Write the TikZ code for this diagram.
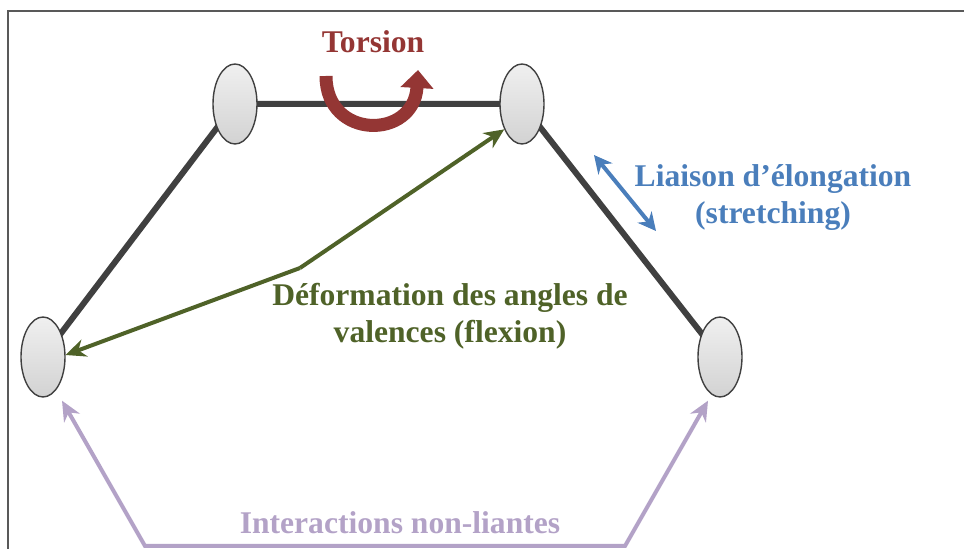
\documentclass[tikz,border=0pt]{standalone}
\usepackage{fontspec}
\setmainfont{Liberation Serif}
\usetikzlibrary{shapes.geometric,arrows.meta,calc}
\definecolor{torsred}{RGB}{148,54,52}
\definecolor{flexgreen}{RGB}{79,98,40}
\definecolor{strblue}{RGB}{74,126,187}
\definecolor{nblilac}{RGB}{179,162,199}
\definecolor{bondgray}{RGB}{64,64,64}
\tikzset{
  atom/.style={ellipse,draw=bondgray,line width=0.7pt,top color=gray!12,bottom color=gray!35,
    minimum width=22pt,minimum height=40pt,inner sep=0pt},
  bond/.style={bondgray,line width=3pt},
  lbl/.style={font=\fontsize{15.8}{18.5}\selectfont\bfseries,align=center,inner sep=0pt}
}
\begin{document}
\begin{tikzpicture}[x=0.5pt,y=-0.5pt]
\useasboundingbox (0,0) rectangle (964,549);
\draw[gray!70!black,line width=1pt] (964,11) -- (8,11) -- (8,549);
\draw[bond] (43,357) -- (235,104) -- (522,104) -- (720,357);
\node[atom] (a1) at (43,357) {};
\node[atom] (a2) at (235,104) {};
\node[atom] (a3) at (522,104) {};
\node[atom] (a4) at (720,357) {};
\draw[torsred,line width=6.5pt,-{Triangle[width=16pt 0 0,length=9pt 0 0]}] (326,76) .. controls (326,140) and (414,140) .. (418,70);
\node[lbl,torsred] (tors) at (373,42) {Torsion};
\coordinate (kink) at (300,268);
\draw[flexgreen,line width=2pt,-{Stealth[length=10pt,width=9pt]}] (kink) -- (a3.235);
\draw[flexgreen,line width=2pt,-{Stealth[length=10pt,width=9pt]}] (kink) -- (a1.5);
\node[lbl,flexgreen] (flex) at (450,316) {Déformation des angles de\\valences (flexion)};
\coordinate (s1) at (594,155);
\coordinate (s2) at (656,231);
\draw[strblue,line width=2pt,{Stealth[length=9pt,width=9pt]}-{Stealth[length=9pt,width=9pt]}] (s1) -- (s2);
\node[lbl,strblue] (stretch) at (773,198) {Liaison d’élongation\\(stretching)};
\coordinate (b1) at (145,546);
\coordinate (b2) at (625,546);
\draw[nblilac,line width=2pt,{Stealth[length=10pt,width=9pt]}-{Stealth[length=10pt,width=9pt]}] ($(a1.south)+(19,3)$) -- (b1) -- (b2) -- ($(a4.south)+(-12,3)$);
\node[lbl,nblilac] (nonb) at (400,523) {Interactions non-liantes};
\end{tikzpicture}
\end{document}
